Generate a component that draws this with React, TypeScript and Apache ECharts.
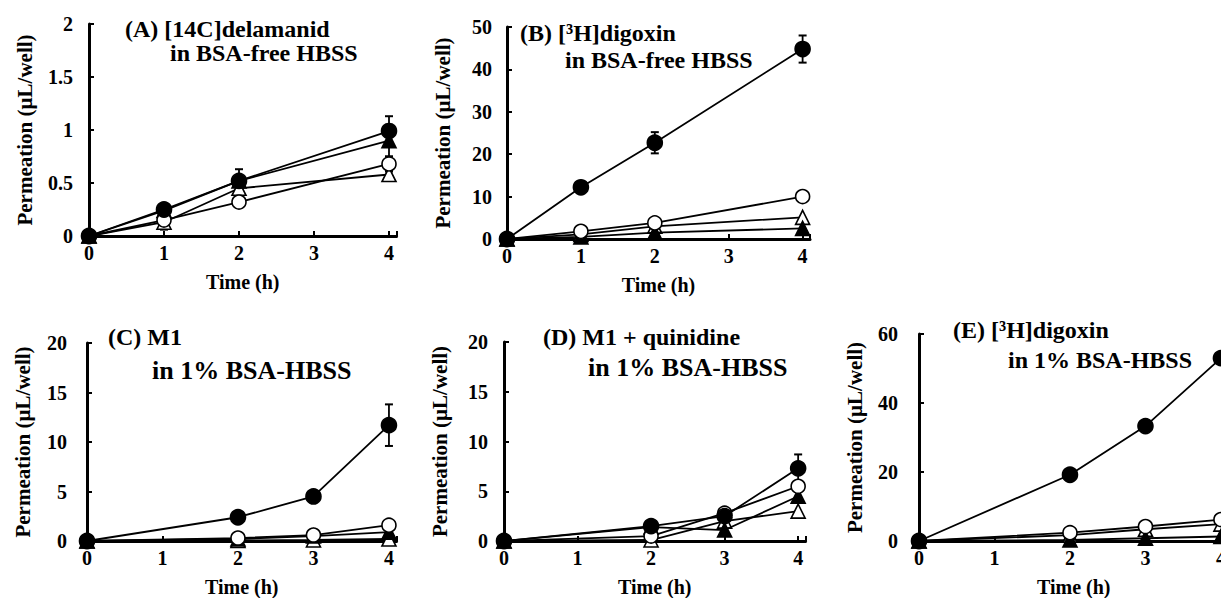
import React, { useEffect, useRef } from "react";
import * as echarts from "echarts";

// ---- Data ----
const timesAB = [0, 1, 2, 4];
const timesCDE = [0, 2, 3, 4];

// Panel A: [14C]delamanid in BSA-free HBSS
const aFilledCircle = [0, 0.25, 0.52, 0.99];
const aFilledCircleErr = [0, 0.02, 0.11, 0.14];
const aOpenCircle = [0, 0.15, 0.32, 0.68];
const aOpenCircleErr = [0, 0.02, 0.02, 0.07];
const aFilledTriangle = [0, 0.24, 0.52, 0.9];
const aFilledTriangleErr = [0, 0.02, 0.03, 0.15];
const aOpenTriangle = [0, 0.13, 0.45, 0.58];
const aOpenTriangleErr = [0, 0.07, 0.03, 0.03];

// Panel B: [3H]digoxin in BSA-free HBSS
const bFilledCircle = [0, 12.2, 22.7, 44.8];
const bFilledCircleErr = [0, 0.6, 2.5, 3.2];
const bOpenCircle = [0, 1.8, 3.8, 10.0];
const bOpenCircleErr = [0, 0, 0, 0];
const bFilledTriangle = [0, 0.5, 1.5, 2.5];
const bFilledTriangleErr = [0, 0, 0.3, 1.2];
const bOpenTriangle = [0, 1.1, 3.0, 5.1];
const bOpenTriangleErr = [0, 0, 0, 0];

// Panel C: M1 in 1% BSA-HBSS
const cFilledCircle = [0, 2.4, 4.5, 11.7];
const cFilledCircleErr = [0, 0.2, 0.5, 2.1];
const cOpenCircle = [0, 0.3, 0.6, 1.6];
const cOpenCircleErr = [0, 0, 0, 0];
const cFilledTriangle = [0, 0.2, 0.5, 0.9];
const cFilledTriangleErr = [0, 0, 0, 0];
const cOpenTriangle = [0, 0.05, 0.1, 0.2];
const cOpenTriangleErr = [0, 0, 0, 0];

// Panel D: M1 + quinidine in 1% BSA-HBSS
const dFilledCircle = [0, 1.5, 2.5, 7.3];
const dFilledCircleErr = [0, 0.2, 0.3, 1.4];
const dOpenCircle = [0, 0.5, 2.8, 5.5];
const dOpenCircleErr = [0, 0, 0, 0];
const dFilledTriangle = [0, 1.4, 1.1, 4.5];
const dFilledTriangleErr = [0, 0, 0, 0];
const dOpenTriangle = [0, 0.1, 2.0, 3.0];
const dOpenTriangleErr = [0, 0, 0, 0];

// Panel E: [3H]digoxin in 1% BSA-HBSS
const eFilledCircle = [0, 19.2, 33.3, 53.0];
const eFilledCircleErr = [0, 0, 0, 0];
const eOpenCircle = [0, 2.4, 4.2, 6.2];
const eOpenCircleErr = [0, 0, 0, 0];
const eFilledTriangle = [0, 0.3, 0.8, 1.3];
const eFilledTriangleErr = [0, 0, 0, 0];
const eOpenTriangle = [0, 1.7, 3.4, 4.9];
const eOpenTriangleErr = [0, 0, 0, 0];

const panelTitles = [
  ["(A) [14C]delamanid", "in BSA-free HBSS"],
  ["(B) [³H]digoxin", "in BSA-free HBSS"],
  ["(C) M1", "in 1% BSA-HBSS"],
  ["(D) M1 + quinidine", "in 1% BSA-HBSS"],
  ["(E) [³H]digoxin", "in 1% BSA-HBSS"],
];
const yMax = [2, 50, 20, 20, 60];
const yInterval = [0.5, 10, 5, 5, 20];
const xTickLabels = ["0", "1", "2", "3", "4"];
const xAxisName = "Time (h)";
const yAxisName = "Permeation (µL/well)";

const panels = [
  { t: timesAB, fc: aFilledCircle, fce: aFilledCircleErr, oc: aOpenCircle, oce: aOpenCircleErr, ft: aFilledTriangle, fte: aFilledTriangleErr, ot: aOpenTriangle, ote: aOpenTriangleErr },
  { t: timesAB, fc: bFilledCircle, fce: bFilledCircleErr, oc: bOpenCircle, oce: bOpenCircleErr, ft: bFilledTriangle, fte: bFilledTriangleErr, ot: bOpenTriangle, ote: bOpenTriangleErr },
  { t: timesCDE, fc: cFilledCircle, fce: cFilledCircleErr, oc: cOpenCircle, oce: cOpenCircleErr, ft: cFilledTriangle, fte: cFilledTriangleErr, ot: cOpenTriangle, ote: cOpenTriangleErr },
  { t: timesCDE, fc: dFilledCircle, fce: dFilledCircleErr, oc: dOpenCircle, oce: dOpenCircleErr, ft: dFilledTriangle, fte: dFilledTriangleErr, ot: dOpenTriangle, ote: dOpenTriangleErr },
  { t: timesCDE, fc: eFilledCircle, fce: eFilledCircleErr, oc: eOpenCircle, oce: eOpenCircleErr, ft: eFilledTriangle, fte: eFilledTriangleErr, ot: eOpenTriangle, ote: eOpenTriangleErr },
];

// ---- Layout (pixels) ----
const grids: any[] = [
  { left: 89, top: 24, width: 307.5, height: 212 },
  { left: 507, top: 27, width: 303, height: 212 },
  { left: 87, top: 343, width: 309.5, height: 201 },
  { left: 504, top: 342, width: 301.5, height: 199 },
  { left: 919, top: 334, width: 309.5, height: 208 },
];
const yLabelMargins = [16, 15, 20, 16, 21];
const titlePos = [
  [[125, 29], [170, 53]],
  [[520, 33], [565, 60]],
  [[108, 337], [152, 370]],
  [[543, 337], [588, 367]],
  [[953, 330], [1008, 360]],
];
const titleSizes = [
  [24, 24],
  [24, 24],
  [24, 26],
  [24, 26],
  [24, 24],
];

const FONT = '"Liberation Serif", "Times New Roman", serif';

export default function App() {
  const ref = useRef<HTMLDivElement>(null);
  useEffect(() => {
    if (!ref.current) return;
    const chart = echarts.init(ref.current, null, { renderer: "svg" });

    const xAxes: any[] = [];
    const yAxes: any[] = [];
    const series: any[] = [];
    const graphics: any[] = [];

    panels.forEach((p, i) => {
      xAxes.push({
        gridIndex: i,
        type: "value",
        min: 0,
        max: 4.1,
        interval: 1,
        name: xAxisName,
        nameLocation: "middle",
        nameGap: 36,
        nameTextStyle: { fontFamily: FONT, fontWeight: "bold", fontSize: 20, color: "#000" },
        axisLine: { lineStyle: { color: "#000", width: 3 } },
        axisTick: { inside: true, length: 5, lineStyle: { color: "#000", width: 2 } },
        axisLabel: {
          margin: 7,
          fontFamily: FONT,
          fontWeight: "bold",
          fontSize: 20,
          color: "#000",
          formatter: (v: number) => (Number.isInteger(v) ? xTickLabels[v] : ""),
        },
        splitLine: { show: false },
      });
      yAxes.push({
        gridIndex: i,
        type: "value",
        min: 0,
        max: yMax[i],
        interval: yInterval[i],
        name: yAxisName,
        nameLocation: "middle",
        nameGap: 54,
        nameTextStyle: { fontFamily: FONT, fontWeight: "bold", fontSize: 21, color: "#000" },
        axisLine: { lineStyle: { color: "#000", width: 3 } },
        axisTick: { inside: true, length: 5, lineStyle: { color: "#000", width: 2 } },
        axisLabel: { margin: yLabelMargins[i], fontFamily: FONT, fontWeight: "bold", fontSize: 20, color: "#000" },
        splitLine: { show: false },
      });

      const pts = (vals: number[]) => p.t.map((x, k) => [x, vals[k]]);
      const errPts = (vals: number[], errs: number[]) =>
        p.t.map((x, k) => [x, vals[k], errs[k]]).filter((d) => d[2] > 0);

      const errSeries = (vals: number[], errs: number[]) => ({
        type: "custom",
        xAxisIndex: i,
        yAxisIndex: i,
        z: 1,
        silent: true,
        data: errPts(vals, errs),
        renderItem: (params: any, api: any) => {
          const x = api.value(0);
          const y = api.value(1);
          const e = api.value(2);
          const top = api.coord([x, y + e]);
          const bot = api.coord([x, Math.max(0, y - e)]);
          const cw = 4;
          const st = { stroke: "#000", lineWidth: 1.8 };
          return {
            type: "group",
            children: [
              { type: "line", shape: { x1: top[0], y1: top[1], x2: bot[0], y2: bot[1] }, style: st },
              { type: "line", shape: { x1: top[0] - cw, y1: top[1], x2: top[0] + cw, y2: top[1] }, style: { stroke: "#000", lineWidth: 2 } },
              { type: "line", shape: { x1: bot[0] - cw, y1: bot[1], x2: bot[0] + cw, y2: bot[1] }, style: { stroke: "#000", lineWidth: 2 } },
            ],
          };
        },
      });

      series.push(errSeries(p.ot, p.ote), errSeries(p.ft, p.fte), errSeries(p.oc, p.oce), errSeries(p.fc, p.fce));

      const lineSeries = (name: string, vals: number[], symbol: string, filled: boolean, size: number, z: number) => ({
        type: "line",
        name,
        xAxisIndex: i,
        yAxisIndex: i,
        data: pts(vals),
        symbol,
        symbolSize: size,
        showAllSymbol: true,
        z,
        lineStyle: { color: "#000", width: 1.8 },
        itemStyle: { color: filled ? "#000" : "#fff", borderColor: "#000", borderWidth: 1.6 },
        emphasis: { disabled: true },
      });

      series.push(
        lineSeries("open triangle", p.ot, "triangle", false, 14, 2),
        lineSeries("filled triangle", p.ft, "triangle", true, 14, 3),
        lineSeries("open circle", p.oc, "circle", false, 14, 4),
        lineSeries("filled circle", p.fc, "circle", true, 15, 5)
      );

      panelTitles[i].forEach((txt, j) => {
        graphics.push({
          type: "text",
          x: titlePos[i][j][0],
          y: titlePos[i][j][1],
          style: {
            text: txt,
            fill: "#000",
            font: `bold ${titleSizes[i][j]}px ${FONT}`,
            align: "left",
            verticalAlign: "middle",
          },
        });
      });
    });

    chart.setOption({
      animation: false,
      backgroundColor: "#fff",
      grid: grids.map((g) => ({ ...g, containLabel: false })),
      xAxis: xAxes,
      yAxis: yAxes,
      series,
      graphic: graphics,
    });

    return () => chart.dispose();
  }, []);

  return (
    <div
      style={{ position: "absolute", left: 0, top: 0, width: 1221, height: 598, overflow: "hidden", background: "#fff" }}
    >
      <div ref={ref} style={{ width: 1250, height: 598 }} />
    </div>
  );
}
